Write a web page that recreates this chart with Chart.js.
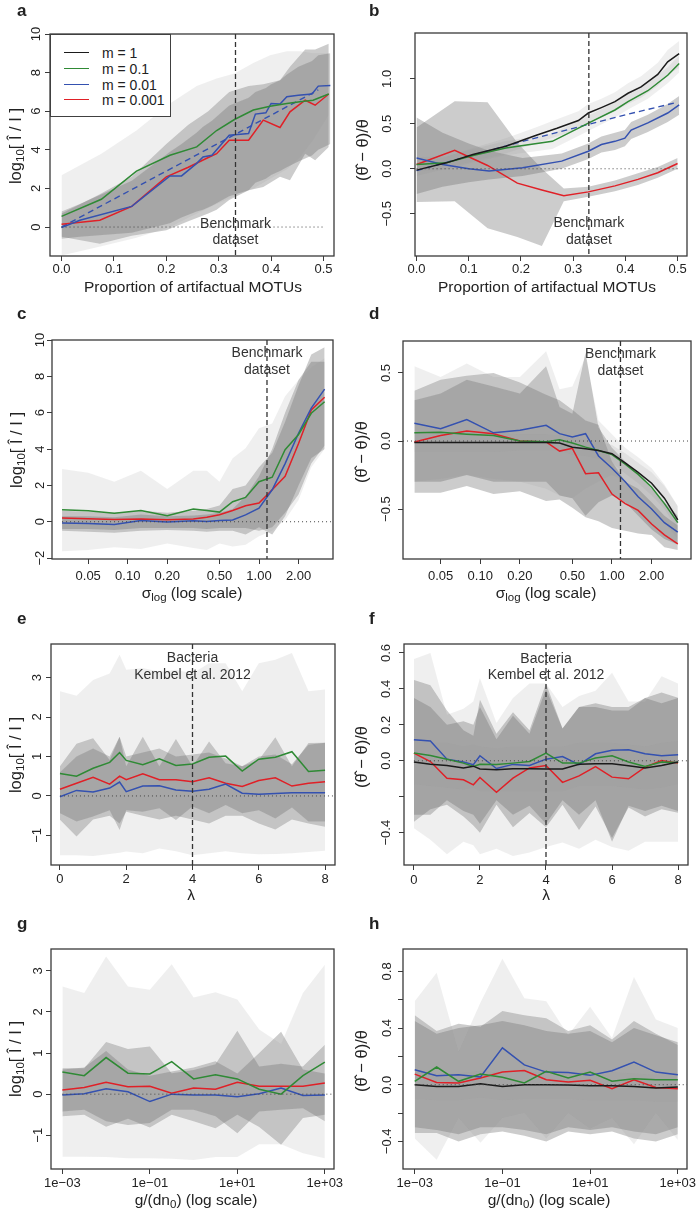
<!DOCTYPE html>
<html>
<head>
<meta charset="utf-8">
<script src="https://cdn.jsdelivr.net/npm/chart.js@4.4.1/dist/chart.umd.min.js"></script>
<style>
  html, body { margin: 0; background: #fff; }
  body { font-family: "Liberation Sans", Arial, Helvetica, sans-serif; color: #222; }
  #fig { position: relative; width: 697px; height: 1213px; overflow: hidden; }
  .panel { position: absolute; }
  .letter { position: absolute; font-weight: bold; font-size: 17px; line-height: 17px; }
  .xt, .yt { position: absolute; white-space: nowrap; line-height: 18px; }
  .xt { font-size: 15.5px; transform: translate(-50%, -50%); }
  .yt { font-size: 16.5px; transform: translate(-50%, -50%) rotate(-90deg); }
  sub { font-size: 11.5px; vertical-align: -3px; line-height: 0; }
  #legend { position: absolute; left: 50px; top: 34px; width: 119px; height: 81px;
            border: 1px solid #404040; background: #fff; font-size: 14px; }
  #legend .row { position: absolute; left: 0; height: 16px; }
  #legend .sw { position: absolute; left: 13px; top: 7px; width: 25px; height: 0; border-top: 1.4px solid; }
  #legend .lb { position: absolute; left: 51px; top: 0; white-space: nowrap; }
</style>
</head>
<body>
<div id="fig">
  <div class="panel" style="left:0;top:0"><canvas id="pa" width="348" height="300"></canvas></div>
  <div class="panel" style="left:348px;top:0"><canvas id="pb" width="349" height="300"></canvas></div>
  <div class="panel" style="left:0;top:300px"><canvas id="pc" width="348" height="300"></canvas></div>
  <div class="panel" style="left:348px;top:300px"><canvas id="pd" width="349" height="300"></canvas></div>
  <div class="panel" style="left:0;top:600px"><canvas id="pe" width="348" height="305"></canvas></div>
  <div class="panel" style="left:348px;top:600px"><canvas id="pf" width="349" height="305"></canvas></div>
  <div class="panel" style="left:0;top:905px"><canvas id="pg" width="348" height="308"></canvas></div>
  <div class="panel" style="left:348px;top:905px"><canvas id="ph" width="349" height="308"></canvas></div>

  <div class="letter" style="left:17px;top:2px">a</div>
  <div class="letter" style="left:369px;top:2px">b</div>
  <div class="letter" style="left:17px;top:305px">c</div>
  <div class="letter" style="left:369px;top:305px">d</div>
  <div class="letter" style="left:17px;top:610px">e</div>
  <div class="letter" style="left:369px;top:610px">f</div>
  <div class="letter" style="left:17px;top:915px">g</div>
  <div class="letter" style="left:369px;top:915px">h</div>

  <div class="yt" style="left:15px;top:146px">log<sub>10</sub>[ Î / I ]</div>
  <div class="yt" style="left:362px;top:150px">(θ̂ − θ)/θ</div>
  <div class="yt" style="left:16px;top:450px">log<sub>10</sub>[ Î / I ]</div>
  <div class="yt" style="left:361px;top:452px">(θ̂ − θ)/θ</div>
  <div class="yt" style="left:15px;top:755px">log<sub>10</sub>[ Î / I ]</div>
  <div class="yt" style="left:361px;top:757px">(θ̂ − θ)/θ</div>
  <div class="yt" style="left:15px;top:1059px">log<sub>10</sub>[ Î / I ]</div>
  <div class="yt" style="left:361px;top:1061px">(θ̂ − θ)/θ</div>

  <div class="xt" style="left:193px;top:287px">Proportion of artifactual MOTUs</div>
  <div class="xt" style="left:547px;top:287px">Proportion of artifactual MOTUs</div>
  <div class="xt" style="left:192px;top:593px">σ<sub>log</sub> (log scale)</div>
  <div class="xt" style="left:546px;top:593px">σ<sub>log</sub> (log scale)</div>
  <div class="xt" style="left:191px;top:895px">λ</div>
  <div class="xt" style="left:546px;top:895px">λ</div>
  <div class="xt" style="left:196px;top:1200px">g/(dn<sub>0</sub>) (log scale)</div>
  <div class="xt" style="left:549px;top:1200px">g/(dn<sub>0</sub>) (log scale)</div>

  <div id="legend"></div>
</div>

<script>
// ---------- legend ----------
const legendLabels = ['m = 1', 'm = 0.1', 'm = 0.01', 'm = 0.001'];
const legendColors = ['black', 'green', 'blue', 'red'];

// ---------- tick values / labels ----------
const propTicks = [0, 0.1, 0.2, 0.3, 0.4, 0.5];
const propLabels = ['0.0', '0.1', '0.2', '0.3', '0.4', '0.5'];
const sigmaTicks = [0.05, 0.1, 0.2, 0.5, 1, 2];
const sigmaLabels = ['0.05', '0.10', '0.20', '0.50', '1.00', '2.00'];
const lambdaTicks = [0, 2, 4, 6, 8];
const lambdaLabels = ['0', '2', '4', '6', '8'];
const ratioTicks = [0.001, 0.1, 10, 1000];
const ratioLabels = ['1e−03', '1e−01', '1e+01', '1e+03'];

const aYTicks = [0, 2, 4, 6, 8, 10];
const aYLabels = ['0', '2', '4', '6', '8', '10'];
const bYTicks = [-0.5, 0, 0.5, 1.0];
const bYLabels = ['−0.5', '0.0', '0.5', '1.0'];
const cYTicks = [-2, 0, 2, 4, 6, 8, 10];
const cYLabels = ['−2', '0', '2', '4', '6', '8', '10'];
const dYTicks = [-0.5, 0, 0.5];
const dYLabels = ['−0.5', '0.0', '0.5'];
const eYTicks = [-1, 0, 1, 2, 3];
const eYLabels = ['−1', '0', '1', '2', '3'];
const fYTicks = [-0.4, -0.2, 0, 0.2, 0.4, 0.6];
const fYLabels = ['−0.4', '', '0.0', '0.2', '0.4', '0.6'];
const gYTicks = [-1, 0, 1, 2, 3];
const gYLabels = ['−1', '0', '1', '2', '3'];
const hYTicks = [-0.4, -0.2, 0, 0.2, 0.4, 0.6, 0.8];
const hYLabels = ['−0.4', '', '0.0', '', '0.4', '', '0.8'];

// ---------- panel a : log10 ratio vs proportion of artifactual MOTUs ----------
const aGreenX = [0, 0.076, 0.143, 0.207, 0.258, 0.296, 0.33, 0.366, 0.398, 0.43, 0.455, 0.48, 0.51];
const aGreen = [0.55, 1.44, 2.9, 3.72, 4.15, 5.0, 5.57, 6.06, 6.26, 6.4, 6.49, 6.57, 6.89];
const aGreenLo = [-1.47, -1.0, -0.55, 0.0, 0.7, 1.2, 1.6, 2.0, 2.5, 3.0, 3.6, 4.5, 5.8];
const aGreenHi = [2.68, 3.8, 5.0, 6.4, 7.3, 7.7, 7.96, 8.5, 8.9, 9.1, 9.1, 9.0, 9.0];
const aRedX = [0, 0.073, 0.134, 0.2, 0.242, 0.28, 0.296, 0.32, 0.357, 0.385, 0.417, 0.436, 0.465, 0.484, 0.51];
const aRed = [0.14, 0.35, 1.07, 2.6, 3.1, 3.6, 3.8, 4.5, 4.5, 5.54, 5.16, 5.97, 6.57, 6.31, 6.89];
const aRedLo = [-0.5, -0.87, -0.45, -0.17, 0.3, 0.7, 0.9, 1.4, 1.9, 2.07, 2.6, 2.42, 3.8, 3.46, 4.15];
const aRedHi = [0.7, 1.7, 2.6, 4.3, 5.3, 6.0, 6.4, 7.0, 7.3, 7.4, 7.6, 8.3, 9.2, 9.2, 9.5];
const aBlueX = [0, 0.035, 0.134, 0.207, 0.229, 0.258, 0.27, 0.287, 0.32, 0.357, 0.37, 0.39, 0.4, 0.417, 0.43, 0.452, 0.478, 0.49, 0.513];
const aBlue = [-0.03, 0.35, 1.07, 2.65, 2.65, 3.3, 3.63, 3.72, 4.76, 4.84, 5.85, 5.92, 6.4, 6.37, 6.75, 6.83, 6.89, 7.3, 7.33];
const aBlueLo = [-0.6, -0.5, -0.3, 0.2, 0.5, 0.8, 0.9, 1.1, 1.6, 1.9, 2.3, 2.5, 2.7, 2.9, 3.1, 3.4, 3.7, 4.0, 4.3];
const aBlueHi = [0.8, 1.2, 2.4, 3.9, 4.3, 4.9, 5.2, 5.5, 6.3, 6.7, 7.0, 7.2, 7.4, 7.6, 7.9, 8.3, 8.6, 8.9, 9.0];
const aTrendX = [0, 0.49];
const aTrend = [0, 7.1];

// ---------- panel b : relative error vs proportion of artifactual MOTUs ----------
const bBlackX = [0, 0.057, 0.108, 0.171, 0.228, 0.269, 0.31, 0.329, 0.354, 0.38, 0.405, 0.43, 0.462, 0.481, 0.503];
const bBlack = [-0.015, 0.066, 0.158, 0.25, 0.37, 0.45, 0.537, 0.62, 0.68, 0.746, 0.84, 0.91, 1.05, 1.19, 1.28];
const bBlackLo = [-0.08, 0.0, 0.09, 0.17, 0.28, 0.36, 0.44, 0.52, 0.58, 0.64, 0.72, 0.79, 0.92, 1.05, 1.12];
const bBlackHi = [0.05, 0.13, 0.23, 0.34, 0.46, 0.55, 0.64, 0.72, 0.78, 0.85, 0.95, 1.03, 1.18, 1.32, 1.42];
const bGreenX = [0, 0.057, 0.108, 0.171, 0.26, 0.329, 0.38, 0.405, 0.443, 0.481, 0.503];
const bGreen = [0.048, 0.066, 0.147, 0.23, 0.305, 0.507, 0.654, 0.746, 0.868, 1.04, 1.17];
const bGreenLo = [-0.03, -0.01, 0.07, 0.15, 0.22, 0.42, 0.57, 0.66, 0.78, 0.95, 1.07];
const bGreenHi = [0.13, 0.14, 0.22, 0.31, 0.39, 0.59, 0.74, 0.83, 0.96, 1.13, 1.26];
const bBlueX = [0, 0.05, 0.1, 0.139, 0.203, 0.278, 0.329, 0.354, 0.38, 0.399, 0.411, 0.443, 0.481, 0.503];
const bBlue = [0.12, 0.048, 0.0, -0.026, 0.011, 0.085, 0.195, 0.27, 0.305, 0.34, 0.43, 0.51, 0.62, 0.71];
const bBlueLo = [-0.28, -0.2, -0.15, -0.12, -0.08, 0.0, 0.11, 0.18, 0.21, 0.25, 0.33, 0.41, 0.52, 0.6];
const bBlueHi = [0.57, 0.4, 0.28, 0.2, 0.12, 0.17, 0.28, 0.36, 0.4, 0.43, 0.52, 0.6, 0.72, 0.81];
const bRedX = [0, 0.073, 0.136, 0.193, 0.24, 0.282, 0.329, 0.38, 0.424, 0.462, 0.5];
const bRed = [0.048, 0.206, 0.037, -0.16, -0.235, -0.30, -0.257, -0.19, -0.118, -0.044, 0.059];
const bRedLo = [-0.37, -0.36, -0.66, -0.76, -0.86, -0.36, -0.31, -0.25, -0.18, -0.1, 0.0];
const bRedHi = [0.46, 0.75, 0.74, 0.29, 0.0, -0.22, -0.2, -0.13, -0.05, 0.02, 0.12];
const bTrendX = [0, 0.1, 0.2, 0.3, 0.4, 0.5];
const bTrend = [-0.02, 0.14, 0.3, 0.45, 0.6, 0.74];

// ---------- panels c, d : sigma_log ----------
const sigmaLevels = [0.0316, 0.05, 0.079, 0.126, 0.2, 0.316, 0.4, 0.5, 0.63, 0.79, 1.0, 1.26, 1.58, 2.0, 2.5, 3.16];
const cGreen = [0.66, 0.6, 0.47, 0.62, 0.33, 0.7, 0.62, 0.53, 1.1, 1.34, 2.2, 2.45, 3.96, 4.8, 5.97, 6.6];
const cGreenLo = [-1.63, -1.55, -1.4, -1.5, -1.2, -1.45, -1.55, -1.2, -1.36, -1.26, -0.8, -0.5, 0.1, 1.2, 3.0, 4.0];
const cGreenHi = [2.9, 2.7, 2.2, 2.8, 1.8, 2.8, 2.8, 2.2, 3.5, 4.05, 5.15, 5.4, 6.9, 7.8, 8.5, 9.0];
const cRed = [0.2, 0.17, 0.13, 0.15, 0.11, 0.15, 0.25, 0.38, 0.62, 0.88, 1.03, 1.76, 2.5, 4.3, 6.15, 6.85];
const cRedLo = [-0.5, -0.55, -0.6, -0.5, -0.45, -0.5, -0.55, -0.5, -0.5, -0.7, -0.3, -0.7, 0.3, 2.0, 3.5, 4.0];
const cRedHi = [0.6, 0.55, 0.5, 0.6, 0.5, 0.6, 0.7, 0.9, 1.8, 2.0, 3.0, 3.8, 5.5, 7.5, 9.2, 9.6];
const cBlue = [-0.07, -0.1, -0.15, 0.07, -0.02, 0.05, 0.02, 0.07, 0.1, 0.38, 0.75, 1.76, 3.2, 4.87, 6.25, 7.3];
const cBlueLo = [-0.4, -0.4, -0.45, -0.35, -0.35, -0.35, -0.4, -0.35, -0.35, -0.35, -0.5, -0.3, 0.5, 1.5, 3.2, 4.2];
const cBlueHi = [0.3, 0.3, 0.25, 0.4, 0.3, 0.35, 0.4, 0.5, 0.7, 1.4, 2.5, 4.0, 6.0, 7.8, 8.8, 8.8];

const dBlack = [-0.01, -0.01, -0.01, -0.01, -0.01, -0.01, -0.015, -0.045, -0.056, -0.07, -0.093, -0.16, -0.23, -0.31, -0.42, -0.58];
const dBlackLo = [-0.08, -0.08, -0.08, -0.08, -0.07, -0.07, -0.07, -0.1, -0.11, -0.13, -0.16, -0.24, -0.31, -0.4, -0.5, -0.66];
const dBlackHi = [0.06, 0.06, 0.06, 0.06, 0.05, 0.05, 0.04, 0.02, 0.01, 0.0, -0.03, -0.09, -0.16, -0.23, -0.33, -0.48];
const dGreen = [0.06, 0.064, 0.05, 0.04, 0.0, -0.005, 0.01, -0.015, -0.045, -0.07, -0.1, -0.17, -0.245, -0.34, -0.46, -0.6];
const dGreenLo = [-0.3, -0.28, -0.25, -0.28, -0.3, -0.35, -0.4, -0.42, -0.35, -0.3, -0.25, -0.3, -0.38, -0.48, -0.6, -0.72];
const dGreenHi = [0.55, 0.47, 0.57, 0.47, 0.47, 0.66, 0.38, 0.4, 0.62, 0.15, 0.05, -0.05, -0.12, -0.2, -0.32, -0.48];
const dBlue = [0.13, 0.09, 0.157, 0.06, 0.08, 0.115, 0.054, 0.03, 0.054, -0.11, -0.2, -0.3, -0.41, -0.5, -0.6, -0.67];
const dBlueLo = [-0.3, -0.3, -0.25, -0.3, -0.3, -0.3, -0.4, -0.42, -0.55, -0.45, -0.4, -0.45, -0.55, -0.65, -0.72, -0.76];
const dBlueHi = [0.3, 0.35, 0.45, 0.4, 0.35, 0.55, 0.25, 0.2, 0.65, 0.1, -0.05, -0.15, -0.25, -0.35, -0.45, -0.55];
const dRed = [-0.007, 0.04, 0.073, 0.054, 0.0, -0.007, -0.074, -0.054, -0.24, -0.233, -0.39, -0.46, -0.51, -0.61, -0.69, -0.755];
const dRedLo = [-0.38, -0.38, -0.33, -0.39, -0.37, -0.44, -0.43, -0.49, -0.56, -0.59, -0.64, -0.66, -0.68, -0.69, -0.78, -0.8];
const dRedHi = [0.37, 0.45, 0.48, 0.5, 0.43, 0.34, 0.3, 0.23, 0.15, 0.12, -0.15, -0.3, -0.35, -0.45, -0.55, -0.62];

// ---------- panels e, f : lambda ----------
const lambdaLevels = [0, 0.5, 1, 1.5, 1.8, 2, 2.5, 3, 3.5, 4, 4.5, 5, 5.5, 6, 6.5, 7, 7.5, 8];
const eGreen = [0.57, 0.5, 0.7, 0.85, 1.1, 0.9, 0.79, 0.94, 0.77, 0.81, 0.98, 1.01, 0.63, 0.93, 0.98, 1.12, 0.62, 0.65];
const eGreenLo = [-1.5, -1.5, -1.52, -1.47, -1.44, -1.41, -1.45, -1.33, -1.4, -1.5, -1.45, -1.4, -1.45, -1.48, -1.47, -1.45, -1.42, -1.39];
const eGreenHi = [2.65, 2.54, 2.94, 3.1, 3.58, 3.2, 3.24, 3.15, 3.2, 3.1, 3.36, 3.36, 2.65, 3.36, 3.45, 3.62, 2.65, 2.7];
const eRed = [0.17, 0.32, 0.47, 0.3, 0.5, 0.41, 0.56, 0.41, 0.41, 0.36, 0.46, 0.32, 0.24, 0.39, 0.46, 0.25, 0.32, 0.36];
const eRedLo = [-0.44, -0.65, -0.52, -0.36, -0.86, -0.36, -0.4, -0.31, -0.61, -0.27, -0.44, -0.23, -0.44, -0.36, -0.57, -0.29, -0.65, -0.65];
const eRedHi = [0.75, 1.32, 1.46, 0.91, 1.5, 0.75, 1.5, 0.75, 1.44, 0.75, 1.38, 0.83, 0.75, 0.91, 1.49, 0.75, 1.34, 1.35];
const eBlue = [-0.02, 0.14, 0.1, 0.2, 0.35, 0.11, 0.25, 0.26, 0.15, 0.12, 0.17, 0.3, 0.07, 0.04, 0.06, 0.08, 0.08, 0.08];
const eBlueLo = [-0.6, -1.03, -0.6, -0.5, -0.7, -0.4, -0.5, -0.6, -0.5, -0.6, -0.7, -0.5, -0.5, -0.7, -0.85, -0.6, -0.7, -0.78];
const eBlueHi = [0.6, 1.0, 1.2, 1.0, 1.5, 1.0, 1.1, 1.2, 1.0, 1.05, 1.1, 0.95, 0.75, 1.0, 1.05, 0.8, 1.3, 1.35];

const fBlack = [-0.007, -0.019, -0.026, -0.04, -0.03, -0.046, -0.05, -0.045, -0.045, -0.046, -0.046, -0.019, -0.017, -0.017, -0.028, -0.04, -0.026, -0.007];
const fBlackLo = [-0.13, -0.14, -0.15, -0.16, -0.15, -0.17, -0.17, -0.17, -0.17, -0.17, -0.17, -0.14, -0.14, -0.14, -0.15, -0.16, -0.15, -0.13];
const fBlackHi = [0.11, 0.1, 0.1, 0.08, 0.09, 0.08, 0.07, 0.08, 0.08, 0.08, 0.08, 0.1, 0.1, 0.1, 0.09, 0.08, 0.1, 0.11];
const fGreen = [0.043, 0.03, 0.009, -0.013, -0.032, -0.019, -0.02, -0.013, -0.004, 0.043, -0.013, -0.013, 0.015, 0.028, -0.007, -0.032, -0.007, -0.009];
const fGreenLo = [-0.3, -0.3, -0.22, -0.28, -0.3, -0.35, -0.22, -0.3, -0.25, -0.35, -0.22, -0.3, -0.22, -0.45, -0.25, -0.28, -0.25, -0.28];
const fGreenHi = [0.35, 0.3, 0.2, 0.22, 0.2, 0.3, 0.12, 0.25, 0.15, 0.4, 0.18, 0.3, 0.3, 0.28, 0.28, 0.35, 0.32, 0.35];
const fBlue = [0.117, 0.11, 0.009, -0.007, -0.022, 0.028, -0.043, -0.02, -0.026, 0.009, 0.024, -0.022, 0.039, 0.058, 0.061, 0.039, 0.028, 0.033];
const fBlueLo = [-0.34, -0.27, -0.245, -0.31, -0.36, -0.4, -0.245, -0.37, -0.29, -0.37, -0.245, -0.385, -0.255, -0.43, -0.26, -0.31, -0.27, -0.29];
const fBlueHi = [0.45, 0.42, 0.28, 0.17, 0.14, 0.34, 0.15, 0.27, 0.17, 0.43, 0.18, 0.3, 0.32, 0.3, 0.3, 0.35, 0.38, 0.35];
const fRed = [0.043, -0.004, -0.097, -0.106, -0.134, -0.093, -0.175, -0.097, -0.04, -0.026, -0.12, -0.084, -0.032, -0.091, -0.1, -0.035, 0.002, -0.013];
const fRedLo = [-0.375, -0.44, -0.52, -0.45, -0.47, -0.52, -0.49, -0.53, -0.51, -0.48, -0.455, -0.49, -0.44, -0.48, -0.5, -0.45, -0.45, -0.45];
const fRedHi = [0.567, 0.6, 0.256, 0.29, 0.33, 0.46, 0.21, 0.35, 0.43, 0.43, 0.3, 0.36, 0.39, 0.49, 0.33, 0.33, 0.47, 0.43];

// ---------- panels g, h : g/(dn0) ----------
const ratioLevels = [0.001, 0.00316, 0.01, 0.0316, 0.1, 0.316, 1, 3.16, 10, 31.6, 100, 316, 1000];
const gGreen = [0.54, 0.45, 0.89, 0.51, 0.49, 0.79, 0.37, 0.47, 0.37, 0.12, 0.0, 0.45, 0.78];
const gGreenLo = [-1.52, -1.52, -1.53, -1.56, -1.56, -1.57, -1.6, -1.53, -1.53, -1.22, -1.22, -1.44, -1.56];
const gGreenHi = [2.62, 2.46, 3.35, 2.62, 2.54, 3.16, 2.35, 2.48, 2.3, 1.57, 1.22, 2.46, 3.15];
const gRed = [0.1, 0.16, 0.29, 0.18, 0.19, 0.02, 0.15, 0.12, 0.29, 0.19, 0.19, 0.19, 0.27];
const gRedLo = [-0.42, -0.38, -0.66, -0.75, -0.7, -0.38, -0.38, -0.54, -0.95, -0.42, -0.38, -0.34, -0.66];
const gRedHi = [0.63, 0.63, 1.27, 1.1, 1.16, 0.51, 0.59, 0.73, 1.54, 0.67, 0.74, 0.67, 1.2];
const gBlue = [-0.02, 0.01, 0.13, 0.06, -0.18, 0.0, -0.02, -0.02, -0.06, 0.01, 0.15, -0.03, -0.02];
const gBlueLo = [-0.54, -0.5, -0.79, -0.6, -0.81, -0.5, -0.66, -0.83, -0.5, -0.8, -1.23, -0.58, -0.5];
const gBlueHi = [0.6, 0.65, 1.05, 0.6, 0.45, 0.55, 0.65, 0.8, 0.5, 1.0, 1.52, 0.6, 0.5];

const hBlack = [0.0, -0.012, -0.012, 0.007, -0.012, 0.0, 0.0, -0.002, -0.007, -0.007, -0.012, -0.023, -0.016];
const hBlackLo = [-0.1, -0.11, -0.11, -0.09, -0.11, -0.1, -0.1, -0.1, -0.11, -0.11, -0.11, -0.12, -0.12];
const hBlackHi = [0.09, 0.08, 0.08, 0.1, 0.08, 0.09, 0.09, 0.09, 0.09, 0.09, 0.08, 0.07, 0.08];
const hGreen = [0.024, 0.125, 0.024, 0.075, 0.052, 0.012, 0.094, 0.047, 0.089, 0.024, 0.042, 0.035, 0.035];
const hGreenLo = [-0.3, -0.32, -0.35, -0.3, -0.3, -0.32, -0.35, -0.3, -0.32, -0.3, -0.33, -0.35, -0.3];
const hGreenHi = [0.45, 0.36, 0.4, 0.42, 0.45, 0.42, 0.38, 0.36, 0.38, 0.3, 0.4, 0.35, 0.3];
const hBlue = [0.106, 0.064, 0.07, 0.054, 0.26, 0.14, 0.089, 0.087, 0.066, 0.099, 0.16, 0.089, 0.07];
const hBlueLo = [-0.38, -0.53, -0.235, -0.41, -0.235, -0.2, -0.38, -0.2, -0.31, -0.235, -0.42, -0.2, -0.39];
const hBlueHi = [0.59, 0.79, 0.235, 0.58, 0.89, 0.61, 0.59, 0.35, 0.55, 0.33, 0.76, 0.46, 0.4];
const hRed = [0.075, 0.016, 0.012, 0.047, 0.089, 0.1, 0.035, 0.019, 0.031, -0.028, 0.035, -0.019, -0.028];
const hRedLo = [-0.34, -0.34, -0.4, -0.35, -0.33, -0.36, -0.4, -0.33, -0.35, -0.33, -0.38, -0.4, -0.35];
const hRedHi = [0.49, 0.38, 0.43, 0.41, 0.52, 0.49, 0.47, 0.38, 0.42, 0.32, 0.45, 0.36, 0.28];

// ---------- styling ----------
const FONT = '"Liberation Sans", Arial, Helvetica, sans-serif';
const COLORS = { black: '#1b1b1b', green: '#2f8a35', blue: '#3451b0', red: '#e02027' };
const SHADE = { light: 'rgba(150,150,150,0.15)', dark: 'rgba(110,110,110,0.35)' };
const AXIS = '#3a3a3a';

// legend box in panel a
const legendEl = document.getElementById('legend');
legendLabels.forEach((lab, i) => {
    const row = document.createElement('div');
    row.className = 'row';
    row.style.top = (10 + i * 15.8) + 'px';
    row.innerHTML = '<span class="sw" style="border-color:' + COLORS[legendColors[i]] + '"></span><span class="lb">' + lab + '</span>';
    legendEl.appendChild(row);
});

function pts(xs, ys) {
    return xs.map((x, i) => ({ x: x, y: ys[i] }));
}

function buildDatasets(series, trend) {
    const ds = [];
    series.forEach(s => ds.push({
        data: pts(s.x, s.y), borderColor: COLORS[s.c], borderWidth: 1.5,
        pointRadius: 0, fill: false, tension: 0
    }));
    if (trend) {
        ds.push({
            data: pts(trend.x, trend.y), borderColor: COLORS.blue, borderWidth: 1.4,
            borderDash: [6, 4], pointRadius: 0, fill: false
        });
    }
    // shaded envelopes drawn below the lines
    series.forEach(s => {
        const loIdx = ds.length;
        ds.push({ data: pts(s.x, s.lo), borderColor: 'transparent', borderWidth: 0, pointRadius: 0, fill: false });
        ds.push({ data: pts(s.x, s.hi), borderColor: 'transparent', borderWidth: 0, pointRadius: 0,
                  fill: loIdx, backgroundColor: SHADE[s.shade] });
    });
    return ds;
}

// R-like frame, reference lines, notes and rotated y labels
function decor(p) {
    return {
        id: 'decor',
        afterDatasetsDraw(chart) {
            const { ctx, chartArea: a, scales: { x, y } } = chart;
            ctx.save();
            ctx.beginPath();
            ctx.rect(a.left, a.top, a.right - a.left, a.bottom - a.top);
            ctx.clip();
            const y0 = y.getPixelForValue(0);
            const x0 = p.zero[0] == null ? a.left : x.getPixelForValue(p.zero[0]);
            const x1 = p.zero[1] == null ? a.right : x.getPixelForValue(p.zero[1]);
            ctx.strokeStyle = '#444';
            ctx.lineWidth = 1;
            ctx.setLineDash([1, 3]);
            ctx.beginPath(); ctx.moveTo(x0, y0); ctx.lineTo(x1, y0); ctx.stroke();
            if (p.vline != null) {
                const vx = x.getPixelForValue(p.vline);
                ctx.strokeStyle = '#333';
                ctx.lineWidth = 1.3;
                ctx.setLineDash([5, 3]);
                ctx.beginPath(); ctx.moveTo(vx, a.top); ctx.lineTo(vx, a.bottom); ctx.stroke();
                ctx.setLineDash([]);
                ctx.fillStyle = '#333';
                ctx.font = '14px ' + FONT;
                ctx.textAlign = 'center';
                ctx.textBaseline = 'middle';
                p.notes.forEach(n => ctx.fillText(n.t, vx, y.getPixelForValue(n.y)));
            }
            ctx.restore();
        },
        afterDraw(chart) {
            const { ctx, chartArea: a, scales: { y } } = chart;
            ctx.save();
            ctx.strokeStyle = AXIS;
            ctx.lineWidth = 1.3;
            ctx.strokeRect(a.left, a.top, a.right - a.left, a.bottom - a.top);
            ctx.fillStyle = '#222';
            ctx.font = '13px ' + FONT;
            ctx.textAlign = 'center';
            ctx.textBaseline = 'middle';
            p.yTicks.forEach((v, i) => {
                if (!p.yLabels[i]) return;
                ctx.save();
                ctx.translate(p.yLabelX, y.getPixelForValue(v));
                ctx.rotate(-Math.PI / 2);
                ctx.fillText(p.yLabels[i], 0, 0);
                ctx.restore();
            });
            ctx.restore();
        }
    };
}

function makePanel(p) {
    const L = p.layout;
    new Chart(document.getElementById(p.id), {
        type: 'line',
        data: { datasets: buildDatasets(p.series, p.trend) },
        options: {
            responsive: false,
            animation: false,
            events: [],
            layout: { padding: { left: 0, top: L.top, right: L.right, bottom: 0 } },
            plugins: { legend: { display: false }, tooltip: { enabled: false } },
            scales: {
                x: {
                    type: p.xType, min: p.xRange[0], max: p.xRange[1],
                    afterBuildTicks: s => { s.ticks = p.xTicks.map(v => ({ value: v })); },
                    afterFit: s => { s.height = L.xAxis; s.paddingLeft = 0; s.paddingRight = 0; },
                    ticks: {
                        autoSkip: false, maxRotation: 0, minRotation: 0, padding: L.xPad,
                        color: '#222', font: { size: 13, family: FONT },
                        callback: (v, i) => p.xLabels[i]
                    },
                    grid: { drawOnChartArea: false, drawTicks: true, tickLength: 5, color: AXIS, lineWidth: 1 },
                    border: { display: false }
                },
                y: {
                    type: 'linear', min: p.yRange[0], max: p.yRange[1],
                    afterBuildTicks: s => { s.ticks = p.yTicks.map(v => ({ value: v })); },
                    afterFit: s => { s.width = L.left; s.paddingTop = 0; s.paddingBottom = 0; },
                    ticks: { display: false },
                    grid: { drawOnChartArea: false, drawTicks: true, tickLength: 5, color: AXIS, lineWidth: 1 },
                    border: { display: false }
                }
            }
        },
        plugins: [decor(p)]
    });
}

// ---------- the eight panels ----------
makePanel({
    id: 'pa', xType: 'linear', xRange: [-0.022, 0.52], yRange: [-1.5, 10],
    xTicks: propTicks, xLabels: propLabels, yTicks: aYTicks, yLabels: aYLabels, yLabelX: 36.7,
    layout: { left: 50, top: 34, right: 14, xAxis: 44, xPad: 0.5 },
    zero: [0, 0.5], vline: 0.332,
    notes: [{ t: 'Benchmark', y: 0.15 }, { t: 'dataset', y: -0.7 }],
    series: [
        { x: aGreenX, y: aGreen, lo: aGreenLo, hi: aGreenHi, c: 'green', shade: 'light' },
        { x: aBlueX, y: aBlue, lo: aBlueLo, hi: aBlueHi, c: 'blue', shade: 'dark' },
        { x: aRedX, y: aRed, lo: aRedLo, hi: aRedHi, c: 'red', shade: 'dark' }
    ],
    trend: { x: aTrendX, y: aTrend }
});

makePanel({
    id: 'pb', xType: 'linear', xRange: [-0.003, 0.518], yRange: [-0.97, 1.51],
    xTicks: propTicks, xLabels: propLabels, yTicks: bYTicks, yLabels: bYLabels, yLabelX: 39.3,
    layout: { left: 67, top: 33, right: 10, xAxis: 44, xPad: 0.5 },
    zero: [0, 0.5], vline: 0.33,
    notes: [{ t: 'Benchmark', y: -0.61 }, { t: 'dataset', y: -0.79 }],
    series: [
        { x: bBlackX, y: bBlack, lo: bBlackLo, hi: bBlackHi, c: 'black', shade: 'light' },
        { x: bGreenX, y: bGreen, lo: bGreenLo, hi: bGreenHi, c: 'green', shade: 'light' },
        { x: bBlueX, y: bBlue, lo: bBlueLo, hi: bBlueHi, c: 'blue', shade: 'dark' },
        { x: bRedX, y: bRed, lo: bRedLo, hi: bRedHi, c: 'red', shade: 'dark' }
    ],
    trend: { x: bTrendX, y: bTrend }
});

makePanel({
    id: 'pc', xType: 'logarithmic', xRange: [0.0265, 3.66], yRange: [-2.05, 10],
    xTicks: sigmaTicks, xLabels: sigmaLabels, yTicks: cYTicks, yLabels: cYLabels, yLabelX: 40.8,
    layout: { left: 52, top: 40, right: 15, xAxis: 41, xPad: 4.2 },
    zero: [0.0316, null], vline: 1.15,
    notes: [{ t: 'Benchmark', y: 9.27 }, { t: 'dataset', y: 8.35 }],
    series: [
        { x: sigmaLevels, y: cGreen, lo: cGreenLo, hi: cGreenHi, c: 'green', shade: 'light' },
        { x: sigmaLevels, y: cBlue, lo: cBlueLo, hi: cBlueHi, c: 'blue', shade: 'dark' },
        { x: sigmaLevels, y: cRed, lo: cRedLo, hi: cRedHi, c: 'red', shade: 'dark' }
    ]
});

makePanel({
    id: 'pd', xType: 'logarithmic', xRange: [0.0259, 3.98], yRange: [-0.867, 0.735],
    xTicks: sigmaTicks, xLabels: sigmaLabels, yTicks: dYTicks, yLabels: dYLabels, yLabelX: 38.3,
    layout: { left: 55, top: 41, right: 6, xAxis: 41, xPad: 4.2 },
    zero: [null, null], vline: 1.16,
    notes: [{ t: 'Benchmark', y: 0.64 }, { t: 'dataset', y: 0.51 }],
    series: [
        { x: sigmaLevels, y: dBlack, lo: dBlackLo, hi: dBlackHi, c: 'black', shade: 'light' },
        { x: sigmaLevels, y: dGreen, lo: dGreenLo, hi: dGreenHi, c: 'green', shade: 'light' },
        { x: sigmaLevels, y: dBlue, lo: dBlueLo, hi: dBlueHi, c: 'blue', shade: 'dark' },
        { x: sigmaLevels, y: dRed, lo: dRedLo, hi: dRedHi, c: 'red', shade: 'dark' }
    ]
});

makePanel({
    id: 'pe', xType: 'linear', xRange: [-0.27, 8.3], yRange: [-1.75, 3.85],
    xTicks: lambdaTicks, xLabels: lambdaLabels, yTicks: eYTicks, yLabels: eYLabels, yLabelX: 37.5,
    layout: { left: 51, top: 44, right: 13, xAxis: 40, xPad: 1.5 },
    zero: [0, null], vline: 4,
    notes: [{ t: 'Bacteria', y: 3.49 }, { t: 'Kembel et al. 2012', y: 3.07 }],
    series: [
        { x: lambdaLevels, y: eGreen, lo: eGreenLo, hi: eGreenHi, c: 'green', shade: 'light' },
        { x: lambdaLevels, y: eBlue, lo: eBlueLo, hi: eBlueHi, c: 'blue', shade: 'dark' },
        { x: lambdaLevels, y: eRed, lo: eRedLo, hi: eRedHi, c: 'red', shade: 'dark' }
    ]
});

makePanel({
    id: 'pf', xType: 'linear', xRange: [-0.3, 8.3], yRange: [-0.58, 0.65],
    xTicks: lambdaTicks, xLabels: lambdaLabels, yTicks: fYTicks, yLabels: fYLabels, yLabelX: 38.3,
    layout: { left: 56, top: 44, right: 9, xAxis: 40, xPad: 2.2 },
    zero: [0, null], vline: 4,
    notes: [{ t: 'Bacteria', y: 0.568 }, { t: 'Kembel et al. 2012', y: 0.479 }],
    series: [
        { x: lambdaLevels, y: fBlack, lo: fBlackLo, hi: fBlackHi, c: 'black', shade: 'light' },
        { x: lambdaLevels, y: fGreen, lo: fGreenLo, hi: fGreenHi, c: 'green', shade: 'dark' },
        { x: lambdaLevels, y: fBlue, lo: fBlueLo, hi: fBlueHi, c: 'blue', shade: 'dark' },
        { x: lambdaLevels, y: fRed, lo: fRedLo, hi: fRedHi, c: 'red', shade: 'light' }
    ]
});

makePanel({
    id: 'pg', xType: 'logarithmic', xRange: [0.00055, 1620], yRange: [-1.82, 3.53],
    xTicks: ratioTicks, xLabels: ratioLabels, yTicks: gYTicks, yLabels: gYLabels, yLabelX: 38,
    layout: { left: 51, top: 44, right: 14, xAxis: 44, xPad: 1.2 },
    zero: [0.001, null], vline: null,
    series: [
        { x: ratioLevels, y: gGreen, lo: gGreenLo, hi: gGreenHi, c: 'green', shade: 'light' },
        { x: ratioLevels, y: gBlue, lo: gBlueLo, hi: gBlueHi, c: 'blue', shade: 'dark' },
        { x: ratioLevels, y: gRed, lo: gRedLo, hi: gRedHi, c: 'red', shade: 'dark' }
    ]
});

makePanel({
    id: 'ph', xType: 'logarithmic', xRange: [0.00054, 1620], yRange: [-0.595, 0.958],
    xTicks: ratioTicks, xLabels: ratioLabels, yTicks: hYTicks, yLabels: hYLabels, yLabelX: 39,
    layout: { left: 55, top: 44, right: 10, xAxis: 44, xPad: 1.2 },
    zero: [0.001, null], vline: null,
    series: [
        { x: ratioLevels, y: hBlack, lo: hBlackLo, hi: hBlackHi, c: 'black', shade: 'light' },
        { x: ratioLevels, y: hGreen, lo: hGreenLo, hi: hGreenHi, c: 'green', shade: 'dark' },
        { x: ratioLevels, y: hBlue, lo: hBlueLo, hi: hBlueHi, c: 'blue', shade: 'light' },
        { x: ratioLevels, y: hRed, lo: hRedLo, hi: hRedHi, c: 'red', shade: 'dark' }
    ]
});
</script>
</body>
</html>
